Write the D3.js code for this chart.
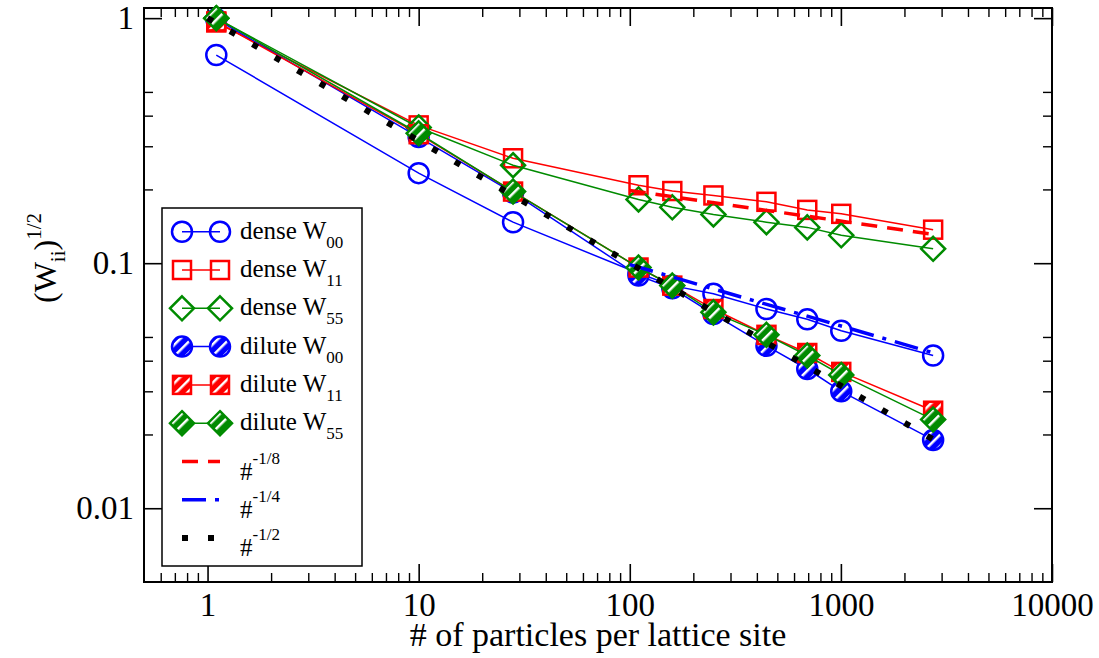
<!DOCTYPE html>
<html>
<head>
<meta charset="utf-8">
<script src="https://cdn.jsdelivr.net/npm/d3@7"></script>
<style>
  body { margin: 0; background: #fff; }
  text { font-family: "Liberation Serif", "Times New Roman", serif; fill: #000; }
</style>
</head>
<body>
<svg width="1099" height="658"></svg>
<script>
// DATA
const particles = [1.1, 10, 28, 110, 159, 249, 444, 693, 1004, 2735];
const denseW00 = [0.707, 0.233, 0.147, 0.091, 0.081, 0.075, 0.065, 0.059, 0.053, 0.042];
const denseW11 = [0.96, 0.365, 0.268, 0.208, 0.197, 0.189, 0.178, 0.165, 0.159, 0.137];
const denseW55 = [1.0, 0.358, 0.251, 0.182, 0.169, 0.158, 0.147, 0.140, 0.130, 0.1145];
const diluteW00 = [0.99, 0.327, 0.194, 0.089, 0.079, 0.062, 0.046, 0.037, 0.030, 0.019];
const diluteW11 = [0.97, 0.336, 0.196, 0.096, 0.081, 0.065, 0.051, 0.043, 0.036, 0.025];
const diluteW55 = [1.0, 0.339, 0.196, 0.096, 0.081, 0.063, 0.051, 0.042, 0.035, 0.023];

// power law guide lines (straight in log-log, so two end points each)
const law8X = [100, 2735], law8Y = [0.198, 0.131];
const law4X = [100, 2735], law4Y = [0.0987, 0.0431];
const law2X = [1, 2735], law2Y = [1.0, 0.0191];

const xMajor = [1, 10, 100, 1000, 10000];
const xMajorLabels = ["1", "10", "100", "1000", "10000"];
const yMajor = [0.01, 0.1, 1];
const yMajorLabels = ["0.01", "0.1", "1"];
const xMinor = [0.6, 0.7, 0.8, 0.9, 2, 3, 4, 5, 6, 7, 8, 9, 20, 30, 40, 50, 60, 70, 80, 90,
  200, 300, 400, 500, 600, 700, 800, 900, 2000, 3000, 4000, 5000, 6000, 7000, 8000, 9000];
const yMinor = [0.02, 0.03, 0.04, 0.05, 0.2, 0.3, 0.4, 0.5];

// SVG PARAMETERS
const svg = d3.select("svg");
const margin = { top: 8, right: 47, bottom: 76, left: 144 };
const width = +svg.attr("width");
const height = +svg.attr("height");
const innerWidth = width - margin.left - margin.right;
const innerHeight = height - margin.top - margin.bottom;

const xScale = d3.scaleLog().domain([0.5, 10000]).range([0, innerWidth]);
const yScale = d3.scaleLog().domain([0.005, 1.1]).range([innerHeight, 0]);

const g = svg.append("g").attr("transform", `translate(${margin.left},${margin.top})`);

// HATCH PATTERNS FOR DILUTE SYMBOLS
const defs = svg.append("defs");
[["blue", "#0000ff"], ["red", "#ff0000"], ["green", "#008b00"]].forEach(([name, col]) => {
  const p = defs.append("pattern")
    .attr("id", "hatch-" + name)
    .attr("patternUnits", "userSpaceOnUse")
    .attr("width", 8).attr("height", 8)
    .attr("patternTransform", "rotate(45)");
  p.append("rect").attr("width", 8).attr("height", 8).attr("fill", col);
  p.append("rect").attr("x", 0).attr("width", 2.5).attr("height", 8).attr("fill", "#fff");
});

// AXES (ticks point inward on all four sides)
const majorLen = 18, minorLen = 9;
const axes = [
  [d3.axisBottom, `translate(0,${innerHeight})`, xScale, xMajor, xMinor, xMajorLabels],
  [d3.axisTop, `translate(0,0)`, xScale, xMajor, xMinor, null],
  [d3.axisLeft, `translate(0,0)`, yScale, yMajor, yMinor, yMajorLabels],
  [d3.axisRight, `translate(${innerWidth},0)`, yScale, yMajor, yMinor, null]
];
axes.forEach(([axisFn, tr, scale, major, minor, labels]) => {
  const ax = g.append("g").attr("transform", tr)
    .call(axisFn(scale).tickValues(major).tickSize(-majorLen).tickPadding(scale === xScale ? 11 : 10)
      .tickFormat((d, i) => labels ? labels[i] : ""));
  ax.select(".domain").remove();
  ax.selectAll("line").attr("stroke", "#000").attr("stroke-width", 1.6);
  if (labels) ax.selectAll("text").style("font-size", "33px").attr("fill", "#000");
  else ax.selectAll("text").remove();
  const axm = g.append("g").attr("transform", tr)
    .call(axisFn(scale).tickValues(minor).tickSize(-minorLen).tickFormat(""));
  axm.select(".domain").remove();
  axm.selectAll("text").remove();
  axm.selectAll("line").attr("stroke", "#000").attr("stroke-width", 1.4);
});

// FRAME
g.append("rect")
  .attr("width", innerWidth).attr("height", innerHeight)
  .attr("fill", "none").attr("stroke", "#000").attr("stroke-width", 2);

// SYMBOLS
const drawSymbol = (sel, shape, color, fill) => {
  if (shape === "circle") {
    sel.append("circle").attr("r", 10);
  } else if (shape === "square") {
    sel.append("rect").attr("x", -9).attr("y", -9).attr("width", 18).attr("height", 18);
  } else {
    sel.append("path").attr("d", "M0,-12L12,0L0,12L-12,0Z");
  }
  sel.selectAll("circle,rect,path").attr("stroke", color).attr("stroke-width", 2.5).attr("fill", fill);
};

const series = [
  { name: "dense", sub: "00", values: denseW00, color: "#0000ff", shape: "circle", fill: "none" },
  { name: "dense", sub: "11", values: denseW11, color: "#ff0000", shape: "square", fill: "none" },
  { name: "dense", sub: "55", values: denseW55, color: "#008b00", shape: "diamond", fill: "none" },
  { name: "dilute", sub: "00", values: diluteW00, color: "#0000ff", shape: "circle", fill: "url(#hatch-blue)" },
  { name: "dilute", sub: "11", values: diluteW11, color: "#ff0000", shape: "square", fill: "url(#hatch-red)" },
  { name: "dilute", sub: "55", values: diluteW55, color: "#008b00", shape: "diamond", fill: "url(#hatch-green)" }
];

const line = d3.line().x((d) => xScale(d[0])).y((d) => yScale(d[1]));

series.forEach((s) => {
  const pts = particles.map((x, i) => [x, s.values[i]]);
  g.append("path").datum(pts).attr("d", line)
    .attr("fill", "none").attr("stroke", s.color).attr("stroke-width", 1.5);
  pts.forEach((p) => {
    const m = g.append("g").attr("transform", `translate(${xScale(p[0])},${yScale(p[1])})`);
    drawSymbol(m, s.shape, s.color, s.fill);
  });
});

// POWER LAW LINES
const laws = [
  { xs: law8X, ys: law8Y, color: "#ff0000", width: 3.5, dash: "16,10", label: "-1/8" },
  { xs: law4X, ys: law4Y, color: "#0000ff", width: 3.5, dash: "24,9,4,9", label: "-1/4" },
  { xs: law2X, ys: law2Y, color: "#000", width: 6, dash: "6,20", label: "-1/2" }
];
laws.forEach((l) => {
  g.append("path").datum(l.xs.map((x, i) => [x, l.ys[i]])).attr("d", line)
    .attr("fill", "none").attr("stroke", l.color).attr("stroke-width", l.width)
    .attr("stroke-dasharray", l.dash);
});

// LEGEND
const legend = svg.append("g");
legend.append("rect")
  .attr("x", 162).attr("y", 208).attr("width", 200).attr("height", 358)
  .attr("fill", "#fff").attr("stroke", "#000").attr("stroke-width", 1.5);
const rowY = (i) => 231.7 + i * 38.3;
series.forEach((s, i) => {
  const y = rowY(i);
  legend.append("line").attr("x1", 182).attr("x2", 220).attr("y1", y).attr("y2", y)
    .attr("stroke", s.color).attr("stroke-width", 1.5);
  [182, 220].forEach((x) => {
    drawSymbol(legend.append("g").attr("transform", `translate(${x},${y})`), s.shape, s.color, s.fill);
  });
  const t = legend.append("text").attr("x", 240).attr("y", y + 7).style("font-size", "25px");
  t.append("tspan").text(s.name + " W");
  t.append("tspan").attr("dy", 9).style("font-size", "17px").text(s.sub);
});
laws.forEach((l, j) => {
  const y = rowY(6 + j);
  legend.append("line").attr("x1", 182).attr("x2", 220).attr("y1", y).attr("y2", y)
    .attr("stroke", l.color).attr("stroke-width", l.width).attr("stroke-dasharray", l.dash);
  const t = legend.append("text").attr("x", 240).attr("y", y + 18).style("font-size", "25px");
  t.append("tspan").text("#");
  t.append("tspan").attr("dy", -16).style("font-size", "17px").text(l.label);
});

// AXIS LABELS
svg.append("text")
  .attr("x", margin.left + innerWidth / 2).attr("y", 646)
  .attr("text-anchor", "middle").style("font-size", "34px")
  .text("# of particles per lattice site");

const yl = svg.append("text")
  .attr("transform", "translate(56,258) rotate(-90)")
  .attr("text-anchor", "middle").style("font-size", "32px");
yl.append("tspan").text("(W");
yl.append("tspan").attr("dy", 9).style("font-size", "21px").text("ii");
yl.append("tspan").attr("dy", -9).text(")");
yl.append("tspan").attr("dy", -15).style("font-size", "21px").text("1/2");
</script>
</body>
</html>
